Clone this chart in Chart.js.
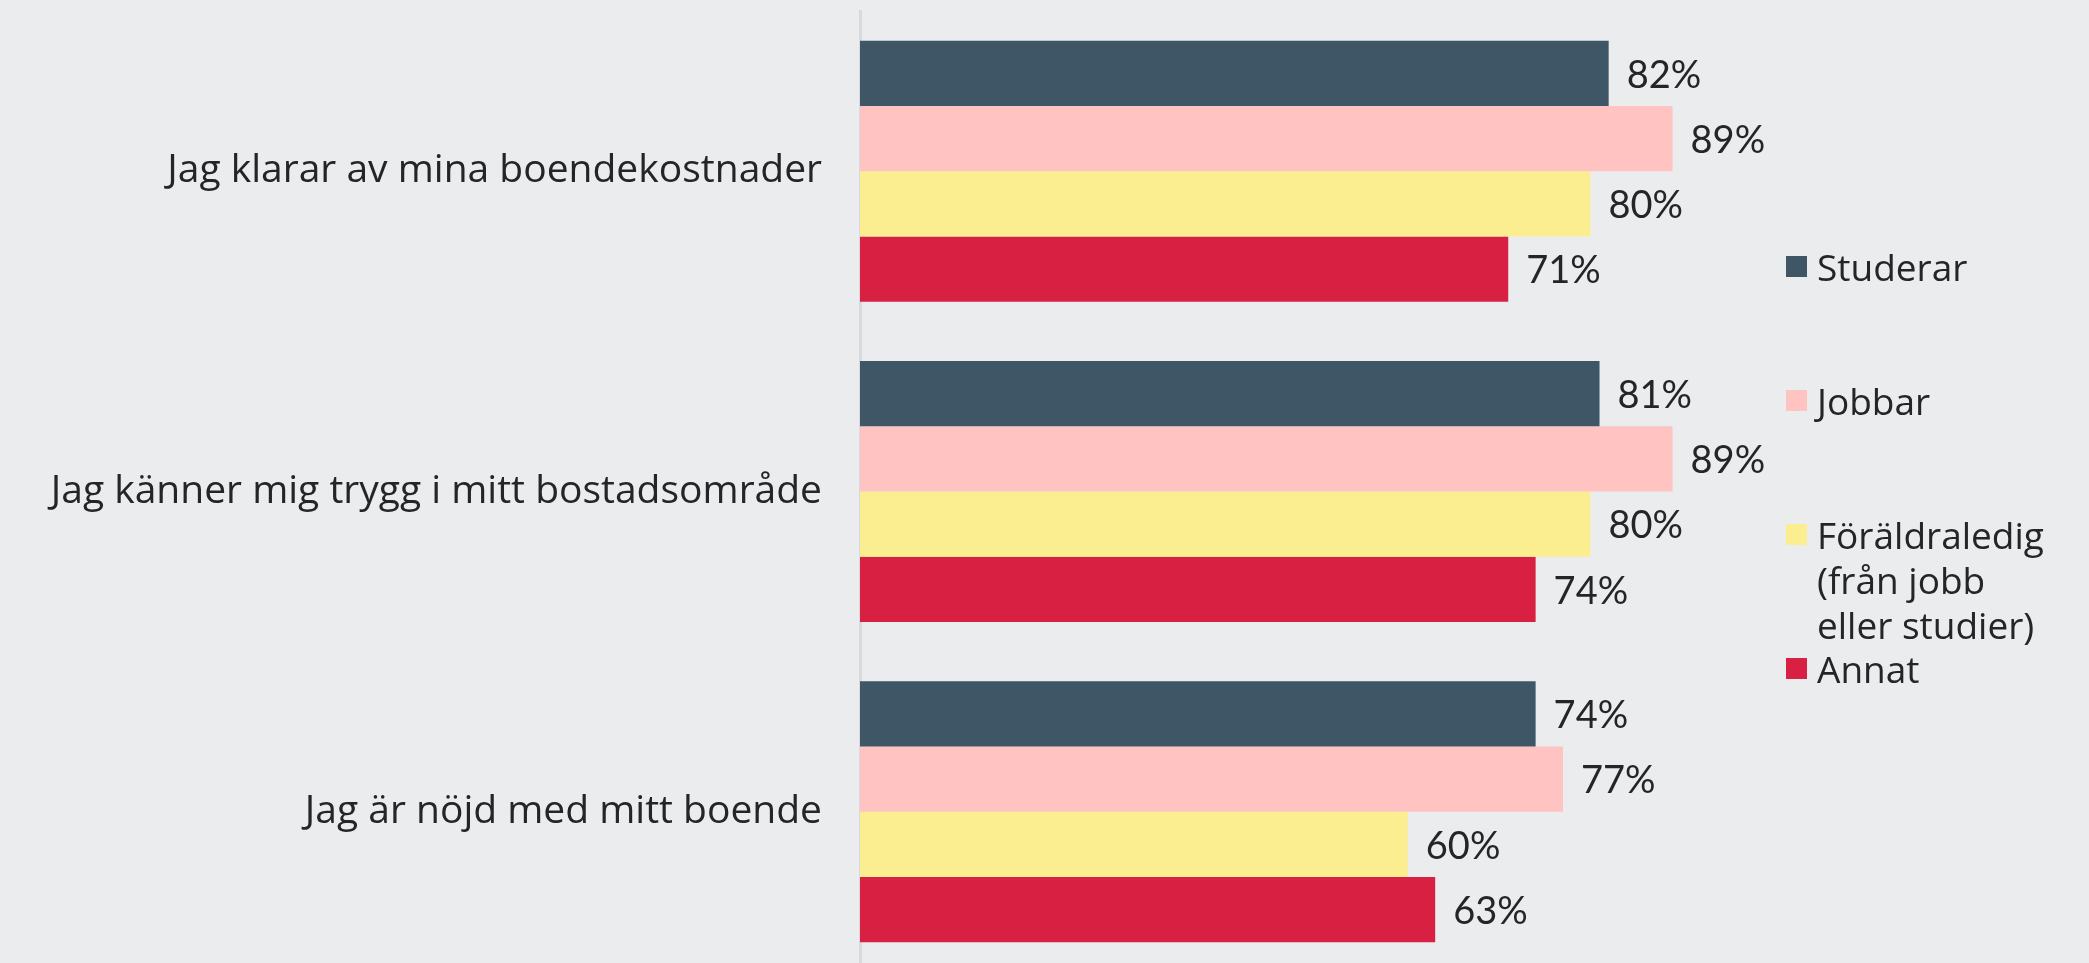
<!DOCTYPE html>
<html lang="sv">
<head>
<meta charset="utf-8">
<title>Boende</title>
<script src="https://cdn.jsdelivr.net/npm/chart.js@4.4.1/dist/chart.umd.min.js"></script>
<style>
    html, body {
        margin: 0;
        padding: 0;
        background: #ebecee;
        overflow: hidden;
    }
    #wrap {
        position: relative;
        width: 2089px;
        height: 972px;
    }
    #legend {
        position: absolute;
        left: 1786px;
        top: 244px;
        margin: 0;
        padding: 0;
        list-style: none;
        font-family: "Open Sans", sans-serif;
        font-size: 37px;
        line-height: 45px;
        color: #252525;
    }
    #legend li {
        position: relative;
        height: 134px;
        width: 250px;
        padding-left: 31px;
    }
    #legend li span {
        position: absolute;
        left: 0;
        top: 12px;
        width: 21px;
        height: 21px;
    }
</style>
</head>
<body>
<div id="wrap">
    <canvas id="barChart"></canvas>
    <ul id="legend"></ul>
</div>
<script>
// frågor (kategorier)
const questions = [
    'Jag klarar av mina boendekostnader',
    'Jag känner mig trygg i mitt bostadsområde',
    'Jag är nöjd med mitt boende'
];

// grupper i legenden
const groups = ['Studerar', 'Jobbar', 'Föräldraledig (från jobb eller studier)', 'Annat'];
const groupColors = ['#3f5666', '#ffc3c2', '#fbee91', '#d82043'];

// andel i procent per grupp, en siffra per fråga
const studerar = [82, 81, 74];
const jobbar = [89, 89, 77];
const foraldraledig = [80, 80, 60];
const annat = [71, 74, 63];

const seriesValues = [studerar, jobbar, foraldraledig, annat];

const textColor = '#252525';
Chart.defaults.font.family = '"Open Sans", sans-serif';

// skriver ut procentsatsen till höger om varje stapel
const valueLabels = {
    id: 'valueLabels',
    afterDatasetsDraw(chart) {
        const ctx = chart.ctx;
        ctx.save();
        ctx.font = '38px Lato, sans-serif';
        ctx.fillStyle = textColor;
        ctx.textAlign = 'left';
        ctx.textBaseline = 'middle';
        chart.data.datasets.forEach((ds, i) => {
            chart.getDatasetMeta(i).data.forEach((bar, j) => {
                ctx.fillText(ds.data[j] + '%', bar.x + 18, bar.y + 2);
            });
        });
        ctx.restore();
    }
};

// egen legend i html så att den långa texten kan radbrytas
const htmlLegend = {
    id: 'htmlLegend',
    afterUpdate(chart) {
        const ul = document.getElementById('legend');
        ul.innerHTML = '';
        chart.data.datasets.forEach((ds) => {
            const li = document.createElement('li');
            const box = document.createElement('span');
            box.style.background = ds.backgroundColor;
            li.appendChild(box);
            li.appendChild(document.createTextNode(ds.label));
            ul.appendChild(li);
        });
    }
};

const datasets = groups.map((name, i) => ({
    label: name,
    data: seriesValues[i],
    backgroundColor: groupColors[i],
    borderWidth: 0,
    barPercentage: 1,
    categoryPercentage: 0.815
}));

const ctx = document.getElementById('barChart').getContext('2d');
const barChart = new Chart(ctx, {
    type: 'bar',
    data: {
        labels: questions,
        datasets: datasets
    },
    options: {
        indexAxis: 'y',
        responsive: true,
        maintainAspectRatio: false,
        animation: false,
        layout: {
            padding: { top: 11, right: 316, bottom: 0, left: 0 }
        },
        plugins: {
            legend: { display: false },
            tooltip: { enabled: false }
        },
        scales: {
            x: {
                display: false,
                min: 0,
                max: 100
            },
            y: {
                afterFit(scale) {
                    scale.width = 860;
                    // etiketterna ska inte trycka ihop staplarna vertikalt
                    scale.paddingTop = 0;
                    scale.paddingBottom = 0;
                },
                grid: { display: false, drawTicks: false, tickLength: 0 },
                border: { display: true, color: '#d9dadd', width: 3 },
                ticks: {
                    color: textColor,
                    padding: 38,
                    font: { size: 39 }
                }
            }
        }
    },
    plugins: [valueLabels, htmlLegend]
});
</script>
</body>
</html>
